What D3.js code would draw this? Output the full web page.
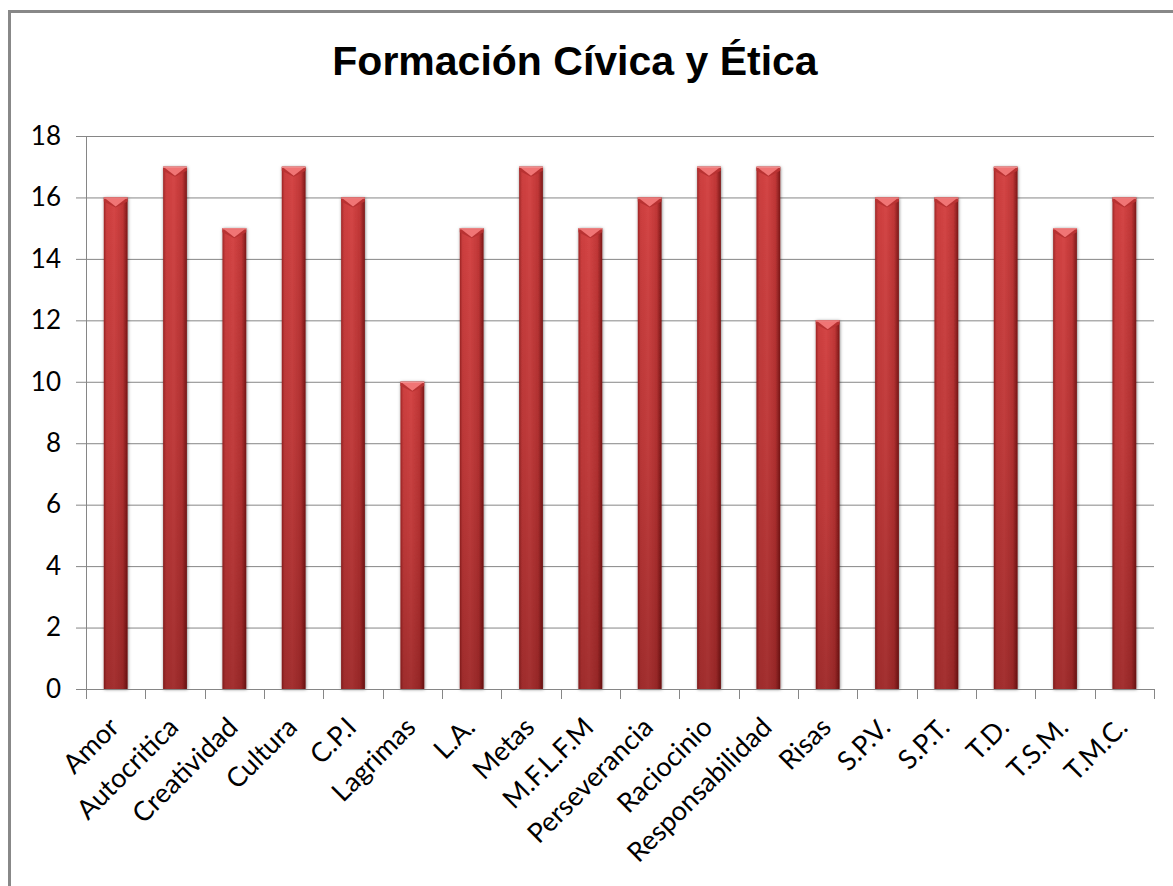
<!DOCTYPE html>
<html>
<head>
<meta charset="utf-8">
<script src="https://cdn.jsdelivr.net/npm/d3@7"></script>
<style>
  body { margin: 0; background: #fff; }
  svg { display: block; }
</style>
</head>
<body>
<svg width="1173" height="886"></svg>
<script>
const categories = ['Amor', 'Autocritica', 'Creatividad', 'Cultura', 'C.P.I', 'Lagrimas', 'L.A.', 'Metas',
  'M.F.L.F.M', 'Perseverancia', 'Raciocinio', 'Responsabilidad', 'Risas', 'S.P.V.', 'S.P.T.', 'T.D.', 'T.S.M.', 'T.M.C.'];
const values = [16, 17, 15, 17, 16, 10, 15, 17, 15, 16, 17, 17, 12, 16, 16, 17, 15, 16];
const yTicks = [0, 2, 4, 6, 8, 10, 12, 14, 16, 18];
const title = 'Formación Cívica y Ética';

const svg = d3.select('svg');
const width = 1173, height = 886;
const margin = { top: 136, right: 19, bottom: 197, left: 86 };
const innerWidth = width - margin.left - margin.right;
const innerHeight = height - margin.top - margin.bottom;
const labelFont = 'Lato, "Open Sans", sans-serif';
const gridColor = '#868686';

// outer frame (runs off the right and bottom edges, like the reference)
svg.append('path')
  .attr('d', `M${width},11.5 H9.5 V${height}`)
  .attr('fill', 'none')
  .attr('stroke', '#888')
  .attr('stroke-width', 3);

// title
svg.append('text')
  .text(title)
  .attr('x', 575)
  .attr('y', 75)
  .attr('text-anchor', 'middle')
  .attr('font-family', '"Liberation Sans", Arial, sans-serif')
  .attr('font-weight', 'bold')
  .attr('font-size', '41px')
  .attr('fill', '#000');

const defs = svg.append('defs');

const hGrad = defs.append('linearGradient').attr('id', 'barH')
  .attr('x1', 0).attr('x2', 1).attr('y1', 0).attr('y2', 0);
[[0, '#9e2626'], [0.12, '#cc3e3e'], [0.45, '#d44545'], [0.8, '#c03636'], [1, '#7c1818']]
  .forEach(s => hGrad.append('stop').attr('offset', s[0]).attr('stop-color', s[1]));

const vGrad = defs.append('linearGradient').attr('id', 'barV')
  .attr('x1', 0).attr('x2', 0).attr('y1', 0).attr('y2', 1);
[[0, '#000', 0], [0.5, '#300000', 0.12], [1, '#300000', 0.3]]
  .forEach(s => vGrad.append('stop').attr('offset', s[0]).attr('stop-color', s[1]).attr('stop-opacity', s[2]));

const shadow = defs.append('filter').attr('id', 'shadow')
  .attr('x', '-30%').attr('y', '-5%').attr('width', '160%').attr('height', '110%');
shadow.append('feDropShadow')
  .attr('dx', 0.5).attr('dy', 0.5)
  .attr('stdDeviation', 1.8)
  .attr('flood-color', '#000')
  .attr('flood-opacity', 0.5);

const g = svg.append('g')
  .attr('transform', `translate(${margin.left},${margin.top})`);

const x = d3.scaleBand()
  .domain(categories)
  .range([0, innerWidth])
  .paddingInner(0.6)
  .paddingOuter(0.3);

const y = d3.scaleLinear()
  .domain([0, 18])
  .range([innerHeight, 0]);

// y axis with gridlines
const yAxisG = g.append('g')
  .call(d3.axisLeft(y).tickValues(yTicks).tickSize(-innerWidth).tickPadding(25));
yAxisG.select('.domain').remove();
yAxisG.selectAll('line')
  .attr('x1', -10)
  .attr('stroke', gridColor);
yAxisG.selectAll('text')
  .attr('font-family', labelFont)
  .attr('font-size', '26px')
  .attr('fill', '#000');

// left axis line
g.append('line')
  .attr('x1', 0.5).attr('x2', 0.5)
  .attr('y1', 0).attr('y2', innerHeight + 10)
  .attr('stroke', gridColor);

// bars
const bars = g.append('g')
  .selectAll('g')
  .data(categories)
  .join('g')
  .attr('transform', d => `translate(${x(d)},${y(values[categories.indexOf(d)])})`);

const bw = x.bandwidth();
bars.append('rect')
  .attr('width', bw)
  .attr('height', d => innerHeight - y(values[categories.indexOf(d)]))
  .attr('fill', 'url(#barH)')
  .attr('filter', 'url(#shadow)');
bars.append('rect')
  .attr('width', bw)
  .attr('height', d => innerHeight - y(values[categories.indexOf(d)]))
  .attr('fill', 'url(#barV)');
// top bevel
bars.append('path')
  .attr('d', `M0,0 L${bw},0 L${bw},4 L${bw / 2},10 L0,4 Z`)
  .attr('fill', '#b83232');
bars.append('path')
  .attr('d', `M1.5,1 L${bw - 1.5},1 L${bw / 2},9 Z`)
  .attr('fill', '#f07575');
bars.append('rect')
  .attr('width', bw).attr('height', 1.2)
  .attr('fill', '#f49090');

// x axis
const xAxisG = g.append('g')
  .attr('transform', `translate(0,${innerHeight})`)
  .call(d3.axisBottom(x).tickSize(0).tickFormat(''));
xAxisG.select('.domain')
  .attr('d', `M0,0.5H${innerWidth}`)
  .attr('stroke', gridColor);

// category boundary ticks
const step = x.step();
g.append('g')
  .selectAll('line')
  .data(d3.range(categories.length + 1))
  .join('line')
  .attr('x1', i => Math.round(i * step) + 0.5)
  .attr('x2', i => Math.round(i * step) + 0.5)
  .attr('y1', innerHeight)
  .attr('y2', innerHeight + 10)
  .attr('stroke', gridColor);

// rotated category labels
g.append('g')
  .selectAll('text')
  .data(categories)
  .join('text')
  .text(d => d)
  .attr('text-anchor', 'end')
  .attr('font-family', labelFont)
  .attr('font-size', '27px')
  .attr('fill', '#000')
  .attr('transform', d => `translate(${x(d) + bw / 2 + 5},${innerHeight + 40}) rotate(-45)`);
</script>
</body>
</html>
